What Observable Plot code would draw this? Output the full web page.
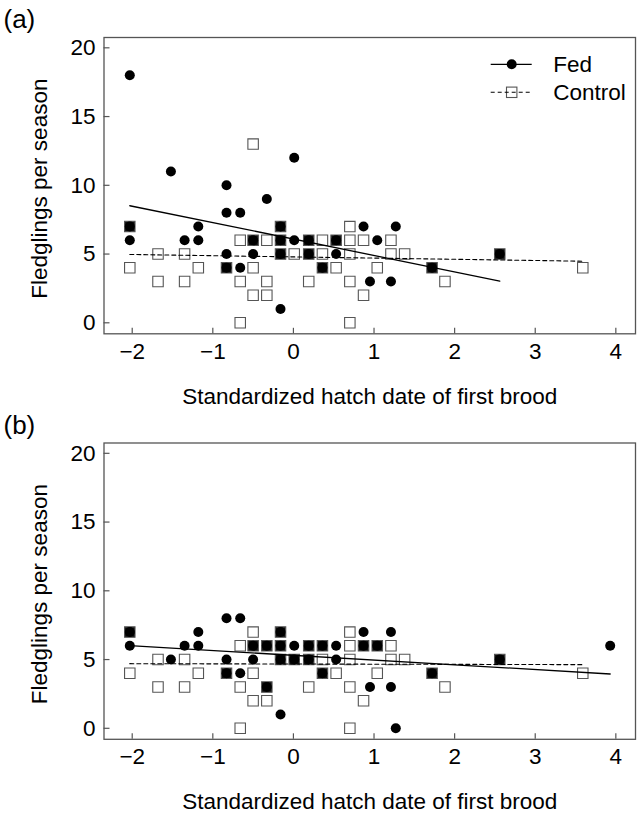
<!DOCTYPE html>
<html><head><meta charset="utf-8">
<script src="https://cdn.jsdelivr.net/npm/d3@7"></script>
<script src="https://cdn.jsdelivr.net/npm/@observablehq/plot@0.6"></script>
<style>
body{margin:0;background:#fff;}
#wrap{width:642px;height:816px;position:relative;font-family:"Liberation Sans",Arial,Helvetica,sans-serif;}
#wrap svg{display:block;}
</style></head><body><div id="wrap"></div>
<script>
// ---- chart values ----
const xTicks = [-2, -1, 0, 1, 2, 3, 4];
const yTicks = [0, 5, 10, 15, 20];
const xLabel = "Standardized hatch date of first brood";
const yLabel = "Fledglings per season";
const seriesNames = ["Fed", "Control"];
const panelLabels = ["(a)", "(b)"];

// panel (a): [hatch date, fledglings]
const fedA = [[-2.03,18],[-2.03,7],[-2.03,6],[-1.52,11],[-1.35,6],[-1.18,7],[-1.18,6],[-0.83,10],[-0.83,8],[-0.83,5],[-0.83,4],[-0.66,8],[-0.66,4],[-0.50,6],[-0.50,5],[-0.33,9],[-0.16,7],[-0.16,6],[-0.16,5],[-0.16,1],[0.01,12],[0.01,6],[0.19,6],[0.19,5],[0.36,4],[0.53,6],[0.53,5],[0.87,7],[0.95,3],[1.04,6],[1.21,3],[1.27,7],[1.72,4],[2.56,5]];
const controlA = [[-2.03,7],[-2.03,4],[-1.68,5],[-1.68,3],[-1.35,5],[-1.35,3],[-1.18,4],[-0.83,4],[-0.66,6],[-0.66,3],[-0.66,0],[-0.50,13],[-0.50,6],[-0.50,4],[-0.50,2],[-0.33,6],[-0.33,3],[-0.33,2],[-0.16,7],[-0.16,6],[-0.16,5],[0.01,5],[0.19,6],[0.19,5],[0.19,3],[0.36,6],[0.36,5],[0.36,4],[0.53,6],[0.53,4],[0.70,7],[0.70,6],[0.70,5],[0.70,3],[0.70,0],[0.87,6],[0.87,2],[1.04,4],[1.21,6],[1.21,5],[1.38,5],[1.72,4],[1.88,3],[2.56,5],[3.59,4]];
// panel (b)
const fedB = [[-2.03,7],[-2.03,6],[-1.52,5],[-1.35,6],[-1.18,7],[-1.18,6],[-0.83,8],[-0.83,5],[-0.83,4],[-0.66,8],[-0.66,4],[-0.50,6],[-0.50,5],[-0.33,6],[-0.33,3],[-0.16,7],[-0.16,6],[-0.16,5],[-0.16,1],[0.01,6],[0.01,5],[0.19,6],[0.19,5],[0.36,6],[0.36,4],[0.53,6],[0.53,5],[0.87,7],[0.87,6],[0.95,3],[1.04,6],[1.21,7],[1.21,3],[1.27,0],[1.72,4],[2.56,5],[3.93,6]];
const controlB = [[-2.03,7],[-2.03,4],[-1.68,5],[-1.68,3],[-1.35,5],[-1.35,3],[-1.18,4],[-0.83,4],[-0.66,6],[-0.66,3],[-0.66,0],[-0.50,7],[-0.50,6],[-0.50,4],[-0.50,2],[-0.33,6],[-0.33,3],[-0.33,2],[-0.16,7],[-0.16,6],[-0.16,5],[0.01,5],[0.19,6],[0.19,5],[0.19,3],[0.36,6],[0.36,5],[0.36,4],[0.53,4],[0.70,7],[0.70,6],[0.70,5],[0.70,3],[0.70,0],[0.87,6],[0.87,2],[1.04,6],[1.04,4],[1.21,6],[1.21,5],[1.38,5],[1.72,4],[1.88,3],[2.56,5],[3.59,4]];

// fitted lines: [intercept, slope]
const fitFedA = [6.09, -1.194];
const fitControlA = [4.793, -0.0873];
const fitFedB = [5.308, -0.3456];
const fitControlB = [4.675, -0.0125];

// ---- drawing ----
const FONT = '"Liberation Sans", Arial, Helvetica, sans-serif';
const FS = 22.5;
const W = 642, ML = 103.5, MR = 7;
const AX = "#555";
const fmt = d3.format("d");

function fitLine(pts, [a, b]) {
  const [x0, x1] = d3.extent(pts, d => d[0]);
  return [{x: x0, y: a + b * x0}, {x: x1, y: a + b * x1}];
}

function panel({fed, control, fitFed, fitControl, label, height, marginTop, marginBottom}) {
  const fedKeys = new Set(fed.map(d => d.join(",")));
  const fedPts = fed.map(([x, y]) => ({x, y}));
  const ctrlPts = control.map(([x, y]) => ({x, y, overlap: fedKeys.has(x + "," + y)}));
  const H = height - marginTop - marginBottom;
  const PW = W - ML - MR;
  return Plot.plot({
    width: W, height, marginLeft: ML, marginRight: MR, marginTop, marginBottom,
    style: {fontFamily: FONT, fontSize: FS + "px", color: "black", background: "white", overflow: "visible"},
    x: {domain: [-2.35, 4.244]},
    y: {domain: [-0.8, 20.75]},
    marks: [
      Plot.frame({stroke: AX, strokeWidth: 1.3}),
      Plot.tickX(xTicks, {x: d => d, insetTop: H - 5.5, stroke: AX, strokeWidth: 1.2}),
      Plot.tickY(yTicks, {y: d => d, insetRight: PW - 6, stroke: AX, strokeWidth: 1.2}),
      Plot.axisX({ticks: xTicks, tickSize: 0, tickPadding: 9, fontSize: FS, label: null, tickFormat: fmt}),
      Plot.axisY({ticks: yTicks, tickSize: 0, tickPadding: 8.5, fontSize: FS, label: null, tickFormat: fmt}),
      Plot.dot(ctrlPts, {x: "x", y: "y", symbol: "square", r: 5.9,
        fill: d => d.overlap ? "#111" : "white", stroke: AX, strokeWidth: 1.1}),
      Plot.dot(fedPts, {x: "x", y: "y", r: 5, fill: "black"}),
      Plot.line(fitLine(fed, fitFed), {x: "x", y: "y", stroke: "black", strokeWidth: 1.3}),
      Plot.line(fitLine(control, fitControl), {x: "x", y: "y", stroke: "black", strokeWidth: 1.1, strokeDasharray: "4,3"}),
      Plot.text([xLabel], {text: d => d, frameAnchor: "bottom", dy: 70, lineAnchor: "bottom", textAnchor: "middle", fontSize: FS}),
      Plot.text([yLabel], {text: d => d, frameAnchor: "left", dx: -57.5, dy: 3, rotate: -90, lineAnchor: "bottom", textAnchor: "middle", fontSize: FS}),
      Plot.text([label], {text: d => d, frameAnchor: "top-left", dx: -100.5, dy: -9.5, textAnchor: "start", lineAnchor: "bottom", fontSize: 26})
    ]
  });
}

const wrap = document.getElementById("wrap");
const svgA = panel({fed: fedA, control: controlA, fitFed: fitFedA, fitControl: fitControlA,
  label: panelLabels[0], height: 406, marginTop: 37, marginBottom: 72.7});
const svgB = panel({fed: fedB, control: controlB, fitFed: fitFedB, fitControl: fitControlB,
  label: panelLabels[1], height: 410, marginTop: 36.5, marginBottom: 77.2});
wrap.appendChild(svgA);
wrap.appendChild(svgB);

// legend inside panel (a)
const lg = d3.select(svgA).append("g").attr("font-family", FONT).attr("font-size", FS).attr("text-anchor", "start");
const rows = [{name: seriesNames[0], y: 64.3, dash: null, square: false},
              {name: seriesNames[1], y: 92.3, dash: "4,3", square: true}];
rows.forEach(r => {
  if (r.square) {
    lg.append("rect").attr("x", 511.7 - 5.2).attr("y", r.y - 5.2).attr("width", 10.4).attr("height", 10.4)
      .attr("fill", "white").attr("stroke", AX).attr("stroke-width", 1.1);
  }
  lg.append("line").attr("x1", 490.7).attr("x2", 531.7).attr("y1", r.y).attr("y2", r.y)
    .attr("stroke", "black").attr("stroke-width", r.square ? 1.1 : 1.3)
    .attr("stroke-dasharray", r.dash);
  if (!r.square) {
    lg.append("circle").attr("cx", 511.7).attr("cy", r.y).attr("r", 5).attr("fill", "black");
  }
  lg.append("text").attr("x", 553.3).attr("y", r.y + 7.8).attr("fill", "black").text(r.name);
});
</script></body></html>
